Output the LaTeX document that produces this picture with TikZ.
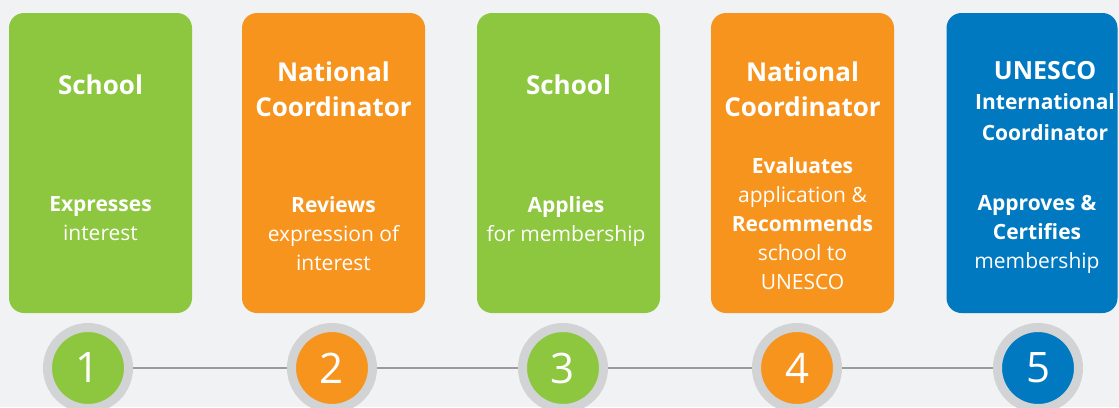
\documentclass[tikz,border=0pt]{standalone}
\usepackage{fontspec}
\setmainfont{Open Sans}
\usetikzlibrary{positioning}

\definecolor{stepgreen}{HTML}{8DC63F}
\definecolor{steporange}{HTML}{F7941E}
\definecolor{stepblue}{HTML}{0079C1}
\definecolor{ringgray}{HTML}{D1D3D4}
\definecolor{linegray}{HTML}{9B9B9B}
\definecolor{bggray}{HTML}{F1F2F4}

\begin{document}
\begin{tikzpicture}[
        x=1pt, y=-1pt,
        card/.style={rounded corners=15pt, minimum width=183pt, minimum height=300pt, inner sep=0pt, outer sep=0pt},
        title/.style={text=white, align=center, font=\fontsize{26}{35}\selectfont\bfseries},
        body/.style={text=white, align=center, font=\fontsize{21}{29}\selectfont},
        badge/.style={circle, draw=ringgray, line width=9pt, minimum size=81pt, inner sep=0pt, text=white, font=\fontsize{42}{42}\selectfont},
        link/.style={draw=linegray, line width=1.2pt}
    ]

    % Background
    \fill[bggray] (0,0) rectangle (1119,407);
    \useasboundingbox (0,0) rectangle (1119,407);

    % Cards
    \node[card, fill=stepgreen]  (card1) at (100.5,163) {};
    \node[card, fill=steporange] (card2) at (333.5,163) {};
    \node[card, fill=stepgreen]  (card3) at (568.5,163) {};
    \node[card, fill=steporange] (card4) at (802.5,163) {};
    \node[card, fill=stepblue, minimum width=171pt] (card5) at (1032,163) {};

    % Who
    \node[title] (who1) at (100.5,85) {School};
    \node[title] (who2) at (333.5,89) {National\\Coordinator};
    \node[title] (who3) at (568.5,85) {School};
    \node[title] (who4) at (802.5,89) {National\\Coordinator};
    \node[title, font=\fontsize{21}{30.5}\selectfont\bfseries] (who5) at (1045,101)
        {{\fontsize{25}{30}\selectfont UNESCO}\\International\\Coordinator};

    % What
    \node[body] (what1) at (100.5,219) {\textbf{Expresses}\\interest};
    \node[body] (what2) at (333.5,234) {\textbf{Reviews}\\expression of\\interest};
    \node[body] (what3) at (566,222) {\textbf{Applies}\\for membership};
    \node[body] (what4) at (802.5,224) {\textbf{Evaluates}\\application \&\\\textbf{Recommends}\\school to\\UNESCO};
    \node[body] (what5) at (1037,234) {\textbf{Approves \&}\\\textbf{Certifies}\\membership};

    % Steps
    \node[badge, fill=stepgreen]  (c1) at (88,368)  {1};
    \node[badge, fill=steporange] (c2) at (332,368) {2};
    \node[badge, fill=stepgreen]  (c3) at (563,368) {3};
    \node[badge, fill=steporange] (c4) at (797,368) {4};
    \node[badge, fill=stepblue]   (c5) at (1038,368) {5};

    \foreach \a/\b in {1/2, 2/3, 3/4, 4/5}
        \path[link] (c\a) -- (c\b);

\end{tikzpicture}
\end{document}
